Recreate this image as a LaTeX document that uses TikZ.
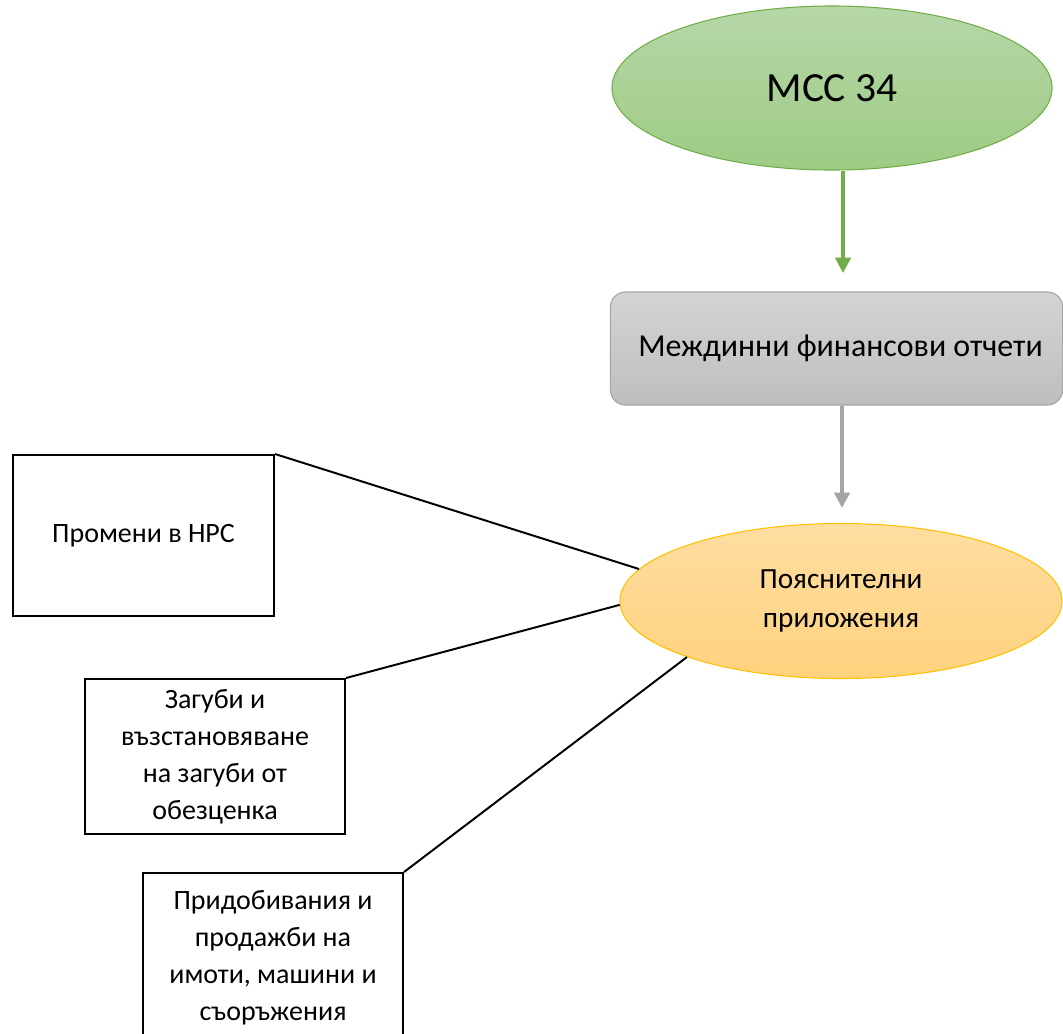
\documentclass[tikz,border=0pt]{standalone}
\usepackage{fontspec}
\setmainfont{Carlito}
\usetikzlibrary{shapes.geometric,arrows.meta}
\definecolor{grnline}{HTML}{70AD47}
\definecolor{grntop}{HTML}{B6D7A8}
\definecolor{grnbot}{HTML}{9ECB84}
\definecolor{gryline}{HTML}{A5A5A5}
\definecolor{grytop}{HTML}{D4D4D4}
\definecolor{grybot}{HTML}{BEBEBE}
\definecolor{orgline}{HTML}{FFC000}
\definecolor{orgtop}{HTML}{FFDEA2}
\definecolor{orgbot}{HTML}{FFD27D}
\tikzset{oval/.style = {draw, ellipse, inner sep=0pt, line width=0.75pt},
         note/.style = {draw, line width=1.4pt, rectangle, align=center, inner sep=0pt, minimum width=6.5cm,
                        font=\fontsize{19.9}{26.3}\selectfont},
         link/.style = {line width=1.4pt},
         flow/.style = {line width=2.3pt, -{Triangle[width=11pt,length=11pt]}}}
\begin{document}
\begin{tikzpicture}[x=0.025cm,y=-0.025cm]
        \useasboundingbox[fill=white](0,0)rectangle(1063,1033);

        \node[oval, draw=grnline, top color=grntop, bottom color=grnbot, minimum width=11cm, minimum height=4.1cm,
              font=\fontsize{29.5}{34}\selectfont](mcc)at(832,88){МСС 34};
        \node[draw=gryline, line width=0.75pt, rounded corners=0.375cm, top color=grytop, bottom color=grybot,
              minimum width=11.3cm, minimum height=2.825cm, inner sep=0pt,
              font=\fontsize{22.7}{26}\selectfont](interim)at(836.5,348.5){\hspace{0.2cm}Междинни финансови отчети};
        \node[oval, draw=orgline, top color=orgtop, bottom color=orgbot, minimum width=11.05cm, minimum height=3.875cm,
              align=center, font=\fontsize{20.8}{27.7}\selectfont](notes)at(841,601){Пояснителни\\приложения};

        \node[note, minimum width=6.525cm, minimum height=4.025cm](changes)at(143.5,535.5){Промени в НРС};
        \node[note, minimum height=3.875cm](losses)at(215,756.5){Загуби и\\възстановяване\\на загуби от\\обезценка};
        \node[note, minimum height=4.2cm, text depth=0.1cm](acq)at(273,957){Придобивания и\\продажби на\\имоти, машини и\\съоръжения};

        \coordinate (g1) at (843,273);
        \coordinate (g2) at (842,508);
        \draw[flow, grnline](mcc.south -| g1)--(g1);
        \draw[flow, gryline](interim.south -| g2)--(g2);

        \draw[link](changes.north east)--(notes.171.5);
        \draw[link](losses.north east)--(notes.181);
        \draw[link](acq.north east)--(notes.200);
    \end{tikzpicture}
\end{document}
